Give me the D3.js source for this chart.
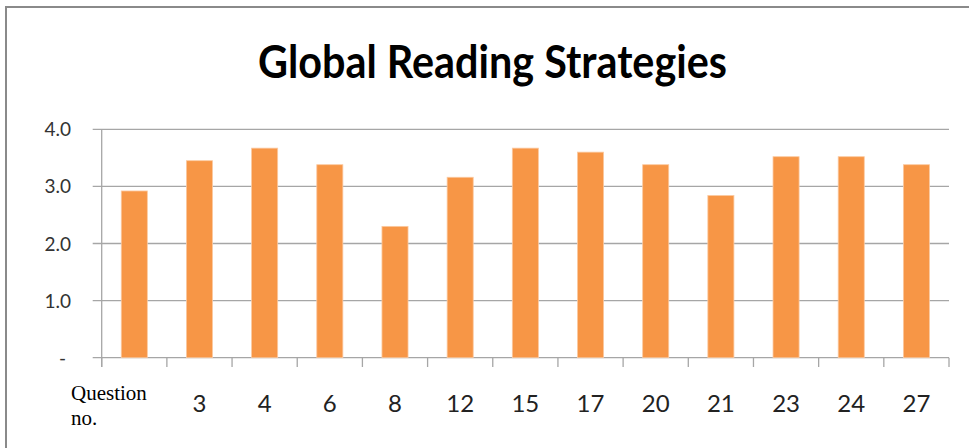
<!DOCTYPE html>
<html>
<head>
<meta charset="utf-8">
<script src="https://cdn.jsdelivr.net/npm/d3@7"></script>
<style>
  body { margin: 0; background: #fff; }
  svg { display: block; }
</style>
</head>
<body>
<div id="chart"></div>
<script>
// data
const questions = ["1", "3", "4", "6", "8", "12", "15", "17", "20", "21", "23", "24", "27"];
const scores = [2.92, 3.45, 3.67, 3.38, 2.30, 3.16, 3.67, 3.60, 3.38, 2.84, 3.52, 3.52, 3.38];
const yTicks = [0, 1, 2, 3, 4];

const width = 969, height = 448;
const margin = {left: 101.7, right: 20, top: 129.3, bottom: 90.3};
const plotRight = 949;

const svg = d3.select("#chart").append("svg")
    .attr("width", width)
    .attr("height", height);

// outer frame
svg.append("rect")
    .attr("x", 6).attr("y", 7)
    .attr("width", width + 10).attr("height", height + 10)
    .attr("fill", "none")
    .attr("stroke", "#8a8a8a")
    .attr("stroke-width", 2);

// title
svg.append("text")
    .attr("x", 492.5).attr("y", 78)
    .attr("text-anchor", "middle")
    .attr("font-family", "Lato, 'Noto Sans', sans-serif")
    .attr("font-weight", "bold")
    .attr("font-size", 46)
    .attr("textLength", 469)
    .attr("lengthAdjust", "spacingAndGlyphs")
    .attr("fill", "#000")
    .text("Global Reading Strategies");

const x = d3.scaleBand()
    .domain(questions)
    .range([margin.left, plotRight])
    .paddingInner(0.6)
    .paddingOuter(0.3);

const y = d3.scaleLinear()
    .domain([0, 4])
    .range([357.7, margin.top]);

// gridlines
svg.append("g")
    .selectAll("line")
    .data(yTicks)
    .join("line")
    .attr("x1", 92.7).attr("x2", plotRight)
    .attr("y1", d => y(d)).attr("y2", d => y(d))
    .attr("stroke", "#a6a6a6")
    .attr("stroke-width", 1.3);

// y axis line
svg.append("line")
    .attr("x1", margin.left).attr("x2", margin.left)
    .attr("y1", y(4)).attr("y2", 367)
    .attr("stroke", "#a6a6a6")
    .attr("stroke-width", 1.3);

// y labels
svg.append("g")
    .selectAll("text")
    .data(yTicks)
    .join("text")
    .attr("x", d => d === 0 ? 66 : 71)
    .attr("y", d => y(d) + 7)
    .attr("text-anchor", "end")
    .attr("font-family", "Lato, 'Open Sans', sans-serif")
    .attr("font-size", 19)
    .attr("fill", "#333")
    .text(d => d === 0 ? "-" : d3.format(".1f")(d));

// category boundary ticks
const bounds = d3.range(questions.length + 1).map(i => margin.left + i * (plotRight - margin.left) / questions.length);
svg.append("g")
    .selectAll("line")
    .data(bounds)
    .join("line")
    .attr("x1", d => d).attr("x2", d => d)
    .attr("y1", y(0)).attr("y2", 367)
    .attr("stroke", "#a6a6a6")
    .attr("stroke-width", 1.3);

// bars
svg.append("g")
    .selectAll("rect")
    .data(scores)
    .join("rect")
    .attr("x", (d, i) => x(questions[i]))
    .attr("width", x.bandwidth())
    .attr("y", d => y(d))
    .attr("height", d => y(0) - y(d))
    .attr("fill", "#f79646")
    .attr("stroke", "#fbc9a0")
    .attr("stroke-width", 0.8);

// x labels (first one is replaced by the "Question no." caption)
svg.append("g")
    .selectAll("text")
    .data(questions.slice(1))
    .join("text")
    .attr("x", d => x(d) + x.bandwidth() / 2)
    .attr("y", 412)
    .attr("text-anchor", "middle")
    .attr("font-family", "Lato, 'Open Sans', sans-serif")
    .attr("font-size", 24)
    .attr("fill", "#222")
    .text(d => d);

const cap = svg.append("text")
    .attr("font-family", "'Liberation Serif', 'Times New Roman', serif")
    .attr("font-size", 21)
    .attr("fill", "#000");
cap.append("tspan").attr("x", 71).attr("y", 400).text("Question");
cap.append("tspan").attr("x", 71).attr("y", 425).text("no.");
</script>
</body>
</html>
